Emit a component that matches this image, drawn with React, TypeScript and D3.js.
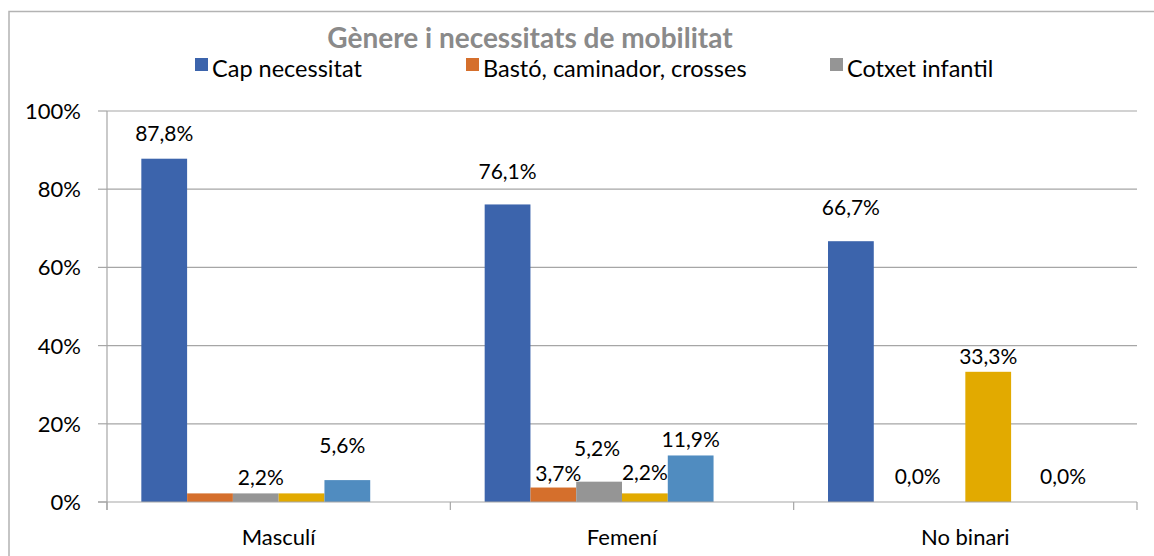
import React, { useEffect, useRef } from "react";
import * as d3 from "d3";

// categories (gènere)
const categories = ["Masculí", "Femení", "No binari"];

// series (necessitats de mobilitat); only the first three names are visible in the legend
const seriesNames = ["Cap necessitat", "Bastó, caminador, crosses", "Cotxet infantil", "", "", ""];
const seriesColors = ["#3c64ac", "#d56f2c", "#959595", "#e2aa00", "#508cc0", "#6fa33f"];

// values in %, one array per series (index follows categories)
const capNecessitat = [87.8, 76.1, 66.7];
const basto = [2.2, 3.7, 0.0];
const cotxet = [2.2, 5.2, 0.0];
const serie4 = [2.2, 2.2, 33.3];
const serie5 = [5.6, 11.9, 0.0];
const serie6 = [0, 0, 0];

const yTicks = [0, 20, 40, 60, 80, 100];

// which data labels are shown, with the little nudges applied to them in the original
const shownLabels: Record<string, [number, number]> = {
  "0|0": [0, -18],
  "0|2": [5, -8],
  "0|4": [-5, -27],
  "1|0": [0, -25],
  "1|1": [5, -7],
  "1|2": [-2, -26],
  "1|3": [0, -13],
  "1|4": [0, -8],
  "2|0": [0, -26],
  "2|1": [21, -18],
  "2|3": [0, -8],
  "2|4": [29, -18],
};

const W = 1154;
const H = 556;
const FONT = "Lato, 'Noto Sans', sans-serif";

const App = () => {
  const ref = useRef<SVGSVGElement>(null);

  useEffect(() => {
    const svg = d3.select(ref.current);
    svg.selectAll("*").remove();

    const allSeries = [capNecessitat, basto, cotxet, serie4, serie5, serie6];
    const plot = { left: 107, right: 1137, top: 111, bottom: 502 };

    const locale = d3.formatLocale({ decimal: ",", thousands: ".", grouping: [3], currency: ["", "€"] });
    const fmt = locale.format(".1f");

    const x0 = d3.scaleBand<string>().domain(categories).range([plot.left, plot.right]);
    const x1 = d3.scaleBand<number>()
      .domain(d3.range(allSeries.length))
      .range([0, x0.bandwidth()])
      .paddingOuter(0.75);
    const y = d3.scaleLinear().domain([0, 100]).range([plot.bottom, plot.top]);

    svg.append("rect").attr("width", W).attr("height", H).attr("fill", "#fff");

    // chart border
    svg.append("path")
      .attr("d", `M9,${H + 2}V11.5H${W + 2}`)
      .attr("fill", "none")
      .attr("stroke", "#b3b3b3")
      .attr("stroke-width", 1.5);

    // title
    svg.append("text")
      .attr("x", 530)
      .attr("y", 48)
      .attr("text-anchor", "middle")
      .attr("font-family", FONT)
      .attr("font-weight", "bold")
      .attr("font-size", 28)
      .attr("fill", "#8a8a8a")
      .text("Gènere i necessitats de mobilitat");

    // legend
    const legendX = [195, 466, 830];
    const legend = svg.append("g")
      .selectAll("g")
      .data(seriesNames.slice(0, 3))
      .enter().append("g")
      .attr("transform", (d, i) => `translate(${legendX[i]},58)`);
    legend.append("rect")
      .attr("width", 13)
      .attr("height", 13)
      .attr("fill", (d, i) => seriesColors[i]);
    legend.append("text")
      .attr("x", 17)
      .attr("y", 18.5)
      .attr("font-family", FONT)
      .attr("font-size", 23.5)
      .attr("fill", "#000")
      .text(d => d);

    // gridlines
    svg.append("g")
      .selectAll("line")
      .data(yTicks.slice(1))
      .enter().append("line")
      .attr("x1", plot.left)
      .attr("x2", plot.right)
      .attr("y1", d => y(d))
      .attr("y2", d => y(d))
      .attr("stroke", "#a6a6a6")
      .attr("stroke-width", 1.2);

    // bars
    const groups = svg.append("g")
      .selectAll("g")
      .data(categories)
      .enter().append("g")
      .attr("transform", d => `translate(${x0(d)},0)`);

    groups.selectAll("rect")
      .data((d, ci) => allSeries.map((s, si) => ({ si, v: s[ci] })))
      .enter().append("rect")
      .attr("x", d => x1(d.si)!)
      .attr("y", d => y(d.v))
      .attr("width", x1.bandwidth())
      .attr("height", d => y(0) - y(d.v))
      .attr("fill", d => seriesColors[d.si]);

    // data labels
    groups.selectAll("text")
      .data((d, ci) =>
        allSeries
          .map((s, si) => ({ si, ci, v: s[ci], nudge: shownLabels[`${ci}|${si}`] }))
          .filter(d => d.nudge)
      )
      .enter().append("text")
      .attr("x", d => x1(d.si)! + x1.bandwidth() / 2 + d.nudge[0])
      .attr("y", d => y(d.v) + d.nudge[1])
      .attr("text-anchor", "middle")
      .attr("font-family", FONT)
      .attr("font-size", 21)
      .attr("fill", "#000")
      .text(d => fmt(d.v) + "%");

    // y axis
    const yAxis = svg.append("g");
    yAxis.append("line")
      .attr("x1", plot.left).attr("x2", plot.left)
      .attr("y1", plot.top).attr("y2", plot.bottom + 8)
      .attr("stroke", "#a6a6a6").attr("stroke-width", 1.2);
    yAxis.selectAll("line.tick")
      .data(yTicks)
      .enter().append("line")
      .attr("class", "tick")
      .attr("x1", plot.left - 9).attr("x2", plot.left)
      .attr("y1", d => y(d)).attr("y2", d => y(d))
      .attr("stroke", "#a6a6a6").attr("stroke-width", 1.2);
    yAxis.selectAll("text")
      .data(yTicks)
      .enter().append("text")
      .attr("x", 81)
      .attr("y", d => y(d))
      .attr("dy", "0.36em")
      .attr("text-anchor", "end")
      .attr("font-family", FONT)
      .attr("font-size", 22)
      .attr("fill", "#000")
      .text(d => d + "%");

    // category axis
    const xAxis = svg.append("g");
    xAxis.append("line")
      .attr("x1", plot.left - 9).attr("x2", plot.right)
      .attr("y1", plot.bottom).attr("y2", plot.bottom)
      .attr("stroke", "#a6a6a6").attr("stroke-width", 1.2);
    xAxis.selectAll("line.tick")
      .data(categories.map(c => x0(c)!).concat([plot.right]))
      .enter().append("line")
      .attr("class", "tick")
      .attr("x1", d => d).attr("x2", d => d)
      .attr("y1", plot.bottom).attr("y2", plot.bottom + 8)
      .attr("stroke", "#a6a6a6").attr("stroke-width", 1.2);
    xAxis.selectAll("text")
      .data(categories)
      .enter().append("text")
      .attr("x", d => x0(d)! + x0.bandwidth() / 2)
      .attr("y", 545)
      .attr("text-anchor", "middle")
      .attr("font-family", FONT)
      .attr("font-size", 22)
      .attr("fill", "#000")
      .text(d => d);
  }, []);

  return (
    <div style={{ position: "absolute", left: 0, top: 0 }}>
      <svg ref={ref} width={W} height={H} style={{ display: "block" }}></svg>
    </div>
  );
};

export default App;
